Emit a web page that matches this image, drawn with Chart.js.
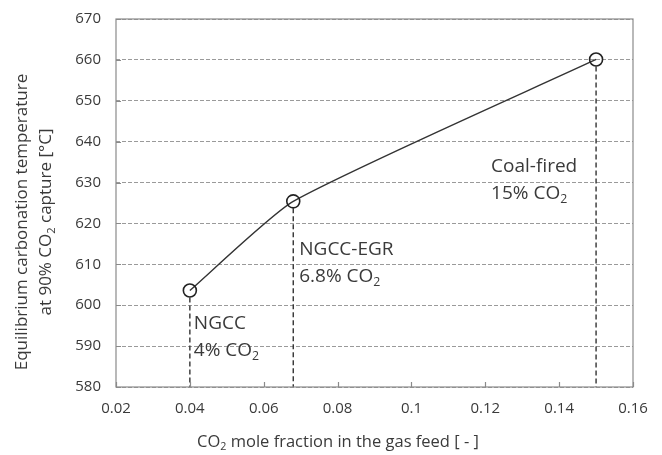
<!DOCTYPE html>
<html>
<head>
<meta charset="utf-8">
<script src="https://cdn.jsdelivr.net/npm/chart.js@4.4.1/dist/chart.umd.min.js"></script>
<style>
  html, body { margin: 0; padding: 0; background: #fff; }
  #wrap { width: 662px; height: 455px; position: relative; }
</style>
</head>
<body>
<div id="wrap"><canvas id="c" width="662" height="455"></canvas></div>
<script>
// ---- data ----
const xValues = [0.04, 0.068, 0.15];
const yValues = [603.6, 625.4, 660.1];
const pointNames = ['NGCC', 'NGCC-EGR', 'Coal-fired'];
const pointShares = ['4%', '6.8%', '15%'];
const xTickLabels = ['0.02', '0.04', '0.06', '0.08', '0.1', '0.12', '0.14', '0.16'];
const yTickLabels = ['580', '590', '600', '610', '620', '630', '640', '650', '660', '670'];
const xTitleParts = [['CO', false], ['2', true], [' mole fraction in the gas feed [ - ]', false]];
const yTitle1 = [['Equilibrium carbonation temperature', false]];
const yTitle2 = [['at 90% CO', false], ['2', true], [' capture [\u00B0C]', false]];

const FONT = "'Open Sans', 'Liberation Sans', sans-serif";
const TEXT = '#3a3a3a';

// label placement (pixel offsets from each point)
const labelOffsets = [
  { dx: 4, dy: 33 },
  { dx: 6, dy: 48 },
  { dx: -105, dy: 107 }
];

function drawParts(ctx, parts, x, y, size, align) {
  let total = 0;
  const widths = parts.map(([t, sub]) => {
    ctx.font = (sub ? size * 0.65 : size) + 'px ' + FONT;
    const w = ctx.measureText(t).width;
    total += w;
    return w;
  });
  let cx = align === 'center' ? x - total / 2 : x;
  ctx.textAlign = 'left';
  ctx.textBaseline = 'middle';
  parts.forEach(([t, sub], i) => {
    ctx.font = (sub ? size * 0.65 : size) + 'px ' + FONT;
    ctx.fillText(t, cx, sub ? y + size * 0.32 : y);
    cx += widths[i];
  });
}

const deco = {
  id: 'deco',
  beforeDatasetsDraw(chart) {
    const { ctx, chartArea: a, scales: { x, y } } = chart;
    ctx.save();
    ctx.setLineDash([5, 3]);
    ctx.strokeStyle = '#333';
    ctx.lineWidth = 1.4;
    xValues.forEach((v, i) => {
      const px = x.getPixelForValue(v);
      const py = y.getPixelForValue(yValues[i]);
      ctx.beginPath();
      ctx.moveTo(px, py + 7);
      ctx.lineTo(px, a.bottom);
      ctx.stroke();
    });
    ctx.restore();
  },
  afterDraw(chart) {
    const { ctx, chartArea: a, scales: { x, y } } = chart;
    ctx.save();
    ctx.strokeStyle = '#8a8a8a';
    ctx.lineWidth = 1.2;
    ctx.strokeRect(a.left, a.top, a.right - a.left, a.bottom - a.top);
    ctx.beginPath();
    x.ticks.forEach(t => {
      const px = Math.round(x.getPixelForValue(t.value)) + 0.5;
      ctx.moveTo(px, a.bottom);
      ctx.lineTo(px, a.bottom - 5);
    });
    y.ticks.forEach(t => {
      const py = Math.round(y.getPixelForValue(t.value)) + 0.5;
      ctx.moveTo(a.left, py);
      ctx.lineTo(a.left + 5, py);
    });
    ctx.stroke();

    ctx.fillStyle = TEXT;
    xValues.forEach((v, i) => {
      const px = x.getPixelForValue(v) + labelOffsets[i].dx;
      const py = y.getPixelForValue(yValues[i]) + labelOffsets[i].dy;
      drawParts(ctx, [[pointNames[i], false]], px, py, 19, 'left');
      drawParts(ctx, [[pointShares[i] + ' CO', false], ['2', true]], px, py + 27, 19, 'left');
    });

    drawParts(ctx, xTitleParts, 338, 442, 16.5, 'center');
    ctx.save();
    ctx.translate(22, 222);
    ctx.rotate(-Math.PI / 2);
    drawParts(ctx, yTitle1, 0, 0, 17, 'center');
    ctx.restore();
    ctx.save();
    ctx.translate(46, 222);
    ctx.rotate(-Math.PI / 2);
    drawParts(ctx, yTitle2, 0, 0, 17, 'center');
    ctx.restore();
    ctx.restore();
  }
};

new Chart(document.getElementById('c'), {
  type: 'line',
  data: {
    datasets: [{
      data: xValues.map((v, i) => ({ x: v, y: yValues[i] })),
      borderColor: '#333',
      borderWidth: 1.4,
      tension: 0.18,
      pointRadius: 6.5,
      pointHoverRadius: 6.5,
      pointBorderWidth: 1.6,
      pointBorderColor: '#222',
      pointBackgroundColor: 'rgba(255,255,255,0)'
    }]
  },
  plugins: [deco],
  options: {
    responsive: false,
    animation: false,
    events: [],
    layout: { padding: { left: 0, top: 19, right: 29, bottom: 0 } },
    plugins: { legend: { display: false }, tooltip: { enabled: false } },
    scales: {
      x: {
        type: 'linear',
        min: 0.02, max: 0.16,
        afterBuildTicks: s => { s.ticks = xTickLabels.map(t => ({ value: parseFloat(t) })); },
        afterFit: s => { s.height = 68; s.paddingLeft = 0; s.paddingRight = 0; },
        ticks: {
          callback: (v, i) => xTickLabels[i],
          font: { family: FONT, size: 15 },
          color: TEXT,
          padding: 13,
          maxRotation: 0,
          autoSkip: false
        },
        grid: { display: false, drawTicks: false },
        border: { display: false }
      },
      y: {
        min: 580, max: 670,
        afterBuildTicks: s => { s.ticks = yTickLabels.map(t => ({ value: parseFloat(t) })); },
        afterFit: s => { s.width = 116; s.paddingTop = 0; s.paddingBottom = 0; },
        ticks: {
          callback: (v, i) => yTickLabels[i],
          font: { family: FONT, size: 15 },
          color: TEXT,
          padding: 15,
          autoSkip: false
        },
        grid: { color: '#9a9a9a', lineWidth: 1, drawTicks: false },
        border: { display: false, dash: [4, 2] }
      }
    }
  }
});
</script>
</body>
</html>
